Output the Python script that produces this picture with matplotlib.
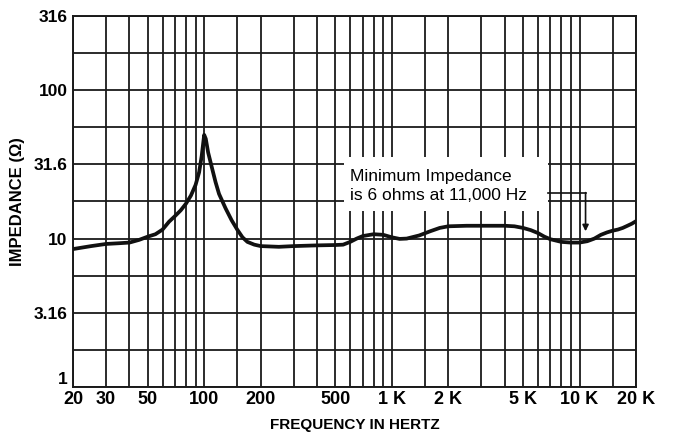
import numpy as np
import matplotlib
matplotlib.use('Agg')
import matplotlib.pyplot as plt
from matplotlib.patches import Rectangle

plt.rcParams['font.family'] = ['Liberation Sans', 'DejaVu Sans']

# impedance curve (Hz, ohms)
freq = [20, 25, 30, 35, 40, 45, 50, 55, 60, 65, 70, 75, 80, 85, 90, 94, 97, 100,
        102, 105, 110, 115, 120, 130, 140, 150, 160, 170, 185, 200, 250, 300,
        400, 500, 550, 600, 650, 700, 800, 900, 1000, 1100, 1200, 1400, 1600,
        1800, 2000, 2500, 3000, 4000, 4500, 5000, 5500, 6000, 6500, 7000, 8000,
        9000, 10000, 11000, 12000, 13000, 14000, 15000, 16000, 17000, 18000,
        19000, 20000]
imp = [8.5, 8.9, 9.2, 9.3, 9.4, 9.8, 10.3, 10.7, 11.5, 13.0, 14.2, 15.5, 17.2,
       19.5, 23.0, 28.0, 36.0, 50.0, 47.0, 38.0, 30.0, 24.0, 20.0, 16.0, 13.3,
       11.5, 10.2, 9.5, 9.1, 8.9, 8.8, 8.9, 9.0, 9.05, 9.1, 9.5, 10.0, 10.4,
       10.7, 10.6, 10.2, 9.95, 10.0, 10.5, 11.2, 11.8, 12.1, 12.2, 12.2, 12.2,
       12.1, 11.8, 11.4, 10.9, 10.3, 9.9, 9.5, 9.4, 9.4, 9.6, 10.0, 10.6, 11.0,
       11.3, 11.5, 11.8, 12.2, 12.6, 13.1]

xgrid = ([20, 30, 40, 50, 60, 70, 80, 90, 100, 150] +
         list(range(200, 1001, 100)) + [1500] +
         list(range(2000, 10001, 1000)) + [15000, 20000])
xticks = [20, 30, 50, 100, 200, 500, 1000, 2000, 5000, 10000, 20000]
xticklabels = ['20', '30', '50', '100', '200', '500', '1 K', '2 K', '5 K', '10 K', '20 K']
yticks = [1, 3.16, 10, 31.6, 100, 316]
yticklabels = ['1', '3.16', '10', '31.6', '100', '316']
ygrid = [10 ** (k * 0.25) for k in range(11)]

fig = plt.figure(figsize=(6.73, 4.34), dpi=100)
ax = fig.add_axes([73 / 673, 1 - 387 / 434, 563 / 673, 371 / 434])
ax.set_xscale('log')
ax.set_yscale('log')
ax.set_xlim(20, 20000)
ax.set_ylim(1, 316)

for g in xgrid:
    ax.axvline(g, color='#1a1a1a', lw=1.3, zorder=1)
for g in ygrid:
    ax.axhline(g, color='#1a1a1a', lw=1.3, zorder=1)

ax.set_xticks(xticks)
ax.set_xticklabels(xticklabels)
ax.set_yticks(yticks)
ax.set_yticklabels(yticklabels)
ax.minorticks_off()
ax.tick_params(axis='x', length=0, labelsize=13, pad=3)
ax.tick_params(axis='y', length=0, labelsize=12.5, pad=4)
for lbl in ax.get_xticklabels() + ax.get_yticklabels():
    lbl.set_fontweight('bold')
# the "1" sits just above the bottom edge, clear of the "20"
ax.get_yticklabels()[0].set_va('bottom')
for s in ax.spines.values():
    s.set_linewidth(1.4)
    s.set_color('#1a1a1a')

ax.plot(freq, imp, color='#111111', lw=2.7, solid_joinstyle='round',
        solid_capstyle='round', zorder=3)

# annotation box
ax.add_patch(Rectangle((556, 15.3), 6830 - 556, 35.5 - 15.3, facecolor='white',
                       edgecolor='none', zorder=2))
ax.text(600, 24.4, 'Minimum Impedance', fontsize=12.5, va='baseline', ha='left', zorder=4)
ax.text(600, 18.2, 'is 6 ohms at 11,000 Hz', fontsize=12.5, va='baseline', ha='left', zorder=4)
ax.plot([6830, 10770], [20.3, 20.3], color='#111111', lw=1.2, zorder=4)
ax.annotate('', xy=(10770, 11.2), xytext=(10770, 20.4),
            arrowprops=dict(arrowstyle='-|>', color='#111111', lw=1.2,
                            mutation_scale=9, shrinkA=0, shrinkB=0), zorder=4)

ax.set_xlabel('FREQUENCY IN HERTZ', fontsize=11, fontweight='bold', labelpad=7)
ax.set_ylabel('IMPEDANCE (\u03a9)', fontsize=12, fontweight='bold', labelpad=6)

fig.savefig('out.png', dpi=100)
